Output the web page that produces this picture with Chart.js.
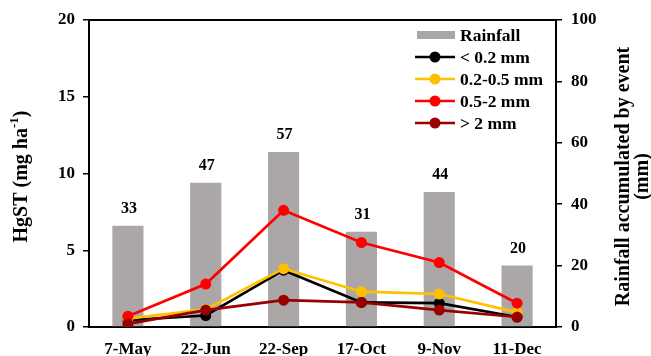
<!DOCTYPE html>
<html>
<head>
<meta charset="utf-8">
<script src="https://cdn.jsdelivr.net/npm/chart.js@4"></script>
<style>
  html, body { margin: 0; padding: 0; background: #fff; overflow: hidden; }
  #wrap { position: relative; width: 651px; height: 372px; }
</style>
</head>
<body>
<div id="wrap"><canvas id="c"></canvas></div>
<script>
// Sampling events
const dates = ['7-May', '22-Jun', '22-Sep', '17-Oct', '9-Nov', '11-Dec'];
// Rainfall accumulated per event (mm)
const rainfall = [33, 47, 57, 31, 44, 20];
// HgST by rainfall intensity class (mg ha-1)
const hgUnder02 = [0.45, 0.75, 3.7, 1.6, 1.55, 0.65];
const hg02to05 = [0.55, 1.15, 3.8, 2.3, 2.15, 0.95];
const hg05to2 = [0.7, 2.8, 7.6, 5.5, 4.2, 1.55];
const hgOver2 = [0.2, 1.1, 1.75, 1.6, 1.1, 0.65];
// Axis ticks
const leftTicks = [0, 5, 10, 15, 20];
const rightTicks = [0, 20, 40, 60, 80, 100];

const SERIF = '"Liberation Serif", "Times New Roman", serif';
const BAR_GREY = '#aba7a7';

function lineSet(label, data, color, order) {
  return {
    type: 'line', label, data, yAxisID: 'y', order,
    borderColor: color, backgroundColor: color,
    borderWidth: 2.7, pointRadius: 5.5, pointBorderWidth: 0,
    pointBackgroundColor: color, tension: 0
  };
}

// Value labels above the rainfall bars
const barLabels = {
  id: 'barLabels',
  afterDatasetsDraw(chart) {
    const meta = chart.getDatasetMeta(0);
    const ctx = chart.ctx;
    ctx.save();
    ctx.font = 'bold 16px ' + SERIF;
    ctx.fillStyle = '#000';
    ctx.textAlign = 'center';
    ctx.textBaseline = 'bottom';
    meta.data.forEach((bar, i) => {
      ctx.fillText(String(rainfall[i]), bar.x + 1, bar.y - 9);
    });
    ctx.restore();
  }
};

// Frame, axis titles and legend
const decorations = {
  id: 'decorations',
  afterDraw(chart) {
    const ctx = chart.ctx;
    const a = chart.chartArea;
    ctx.save();
    ctx.strokeStyle = '#000';
    ctx.lineWidth = 2;
    ctx.beginPath();
    ctx.moveTo(a.left - 1, a.top);
    ctx.lineTo(a.right + 1, a.top);
    ctx.stroke();

    const midY = (a.top + a.bottom) / 2 + 3;
    ctx.fillStyle = '#000';

    // Left title with superscript
    ctx.save();
    ctx.translate(22, midY);
    ctx.rotate(-Math.PI / 2);
    ctx.textBaseline = 'middle';
    const big = 'bold 20px ' + SERIF;
    const small = 'bold 13px ' + SERIF;
    const p1 = 'HgST (mg ha', sup = '-1', p2 = ')';
    ctx.font = big; const w1 = ctx.measureText(p1).width; const w3 = ctx.measureText(p2).width;
    ctx.font = small; const w2 = ctx.measureText(sup).width;
    let x = -(w1 + w2 + w3) / 2;
    ctx.textAlign = 'left';
    ctx.font = big; ctx.fillText(p1, x, 0); x += w1;
    ctx.font = small; ctx.fillText(sup, x, -7); x += w2;
    ctx.font = big; ctx.fillText(p2, x, 0);
    ctx.restore();

    // Right title, two lines
    ctx.save();
    ctx.translate(633, midY);
    ctx.rotate(-Math.PI / 2);
    ctx.textAlign = 'center';
    ctx.textBaseline = 'middle';
    ctx.font = 'bold 20px ' + SERIF;
    ctx.fillText('Rainfall accumulated by event', 0, -9);
    ctx.fillText('(mm)', 0, 10);
    ctx.restore();

    // Legend
    const items = chart.data.datasets;
    const x0 = 415, x1 = 455, tx = 460, y0 = 35, step = 22;
    ctx.font = 'bold 17.5px ' + SERIF;
    ctx.textAlign = 'left';
    ctx.textBaseline = 'middle';
    items.forEach((ds, k) => {
      const y = y0 + k * step;
      if (ds.type === 'bar') {
        ctx.fillStyle = ds.backgroundColor;
        ctx.fillRect(x0 + 2, y - 4, x1 - x0 - 2, 8);
      } else {
        ctx.strokeStyle = ds.borderColor;
        ctx.lineWidth = 2.7;
        ctx.beginPath(); ctx.moveTo(x0, y); ctx.lineTo(x1, y); ctx.stroke();
        ctx.fillStyle = ds.borderColor;
        ctx.beginPath(); ctx.arc((x0 + x1) / 2, y, 5.5, 0, Math.PI * 2); ctx.fill();
      }
      ctx.fillStyle = '#000';
      ctx.fillText(ds.label, tx, y + 1);
    });
    ctx.restore();
  }
};

const tickFont = { family: SERIF, size: 17, weight: 'bold' };

new Chart(document.getElementById('c'), {
  data: {
    labels: dates,
    datasets: [
      { type: 'bar', label: 'Rainfall', data: rainfall, yAxisID: 'y1', order: 10,
        backgroundColor: BAR_GREY, barPercentage: 0.4, categoryPercentage: 1.0 },
      lineSet('< 0.2 mm', hgUnder02, '#000000', 4),
      lineSet('0.2-0.5 mm', hg02to05, '#ffc000', 3),
      lineSet('0.5-2 mm', hg05to2, '#ff0000', 2),
      lineSet('> 2 mm', hgOver2, '#990000', 1)
    ]
  },
  options: {
    responsive: true,
    maintainAspectRatio: false,
    animation: false,
    layout: { padding: { left: 0, right: 0, top: 20, bottom: 0 } },
    plugins: { legend: { display: false }, tooltip: { enabled: false } },
    scales: {
      x: {
        offset: true,
        grid: { display: false, drawTicks: false },
        border: { display: true, color: '#000', width: 2 },
        ticks: { color: '#000', font: tickFont, padding: 12, maxRotation: 0 },
        afterFit(s) { s.height = 372 - 327; }
      },
      y: {
        position: 'left', min: 0, max: 20,
        afterBuildTicks(s) { s.ticks = leftTicks.map(v => ({ value: v })); },
        grid: { drawOnChartArea: false, color: '#000', lineWidth: 1.5, tickLength: 6 },
        border: { display: true, color: '#000', width: 2 },
        ticks: { color: '#000', font: tickFont, padding: 8 },
        afterFit(s) { s.width = 89; }
      },
      y1: {
        position: 'right', min: 0, max: 100,
        afterBuildTicks(s) { s.ticks = rightTicks.map(v => ({ value: v })); },
        grid: { drawOnChartArea: false, color: '#000', lineWidth: 1.5, tickLength: 6 },
        border: { display: true, color: '#000', width: 2 },
        ticks: { color: '#000', font: tickFont, padding: 9 },
        afterFit(s) { s.width = 651 - 556; }
      }
    }
  },
  plugins: [barLabels, decorations]
});
</script>
</body>
</html>
